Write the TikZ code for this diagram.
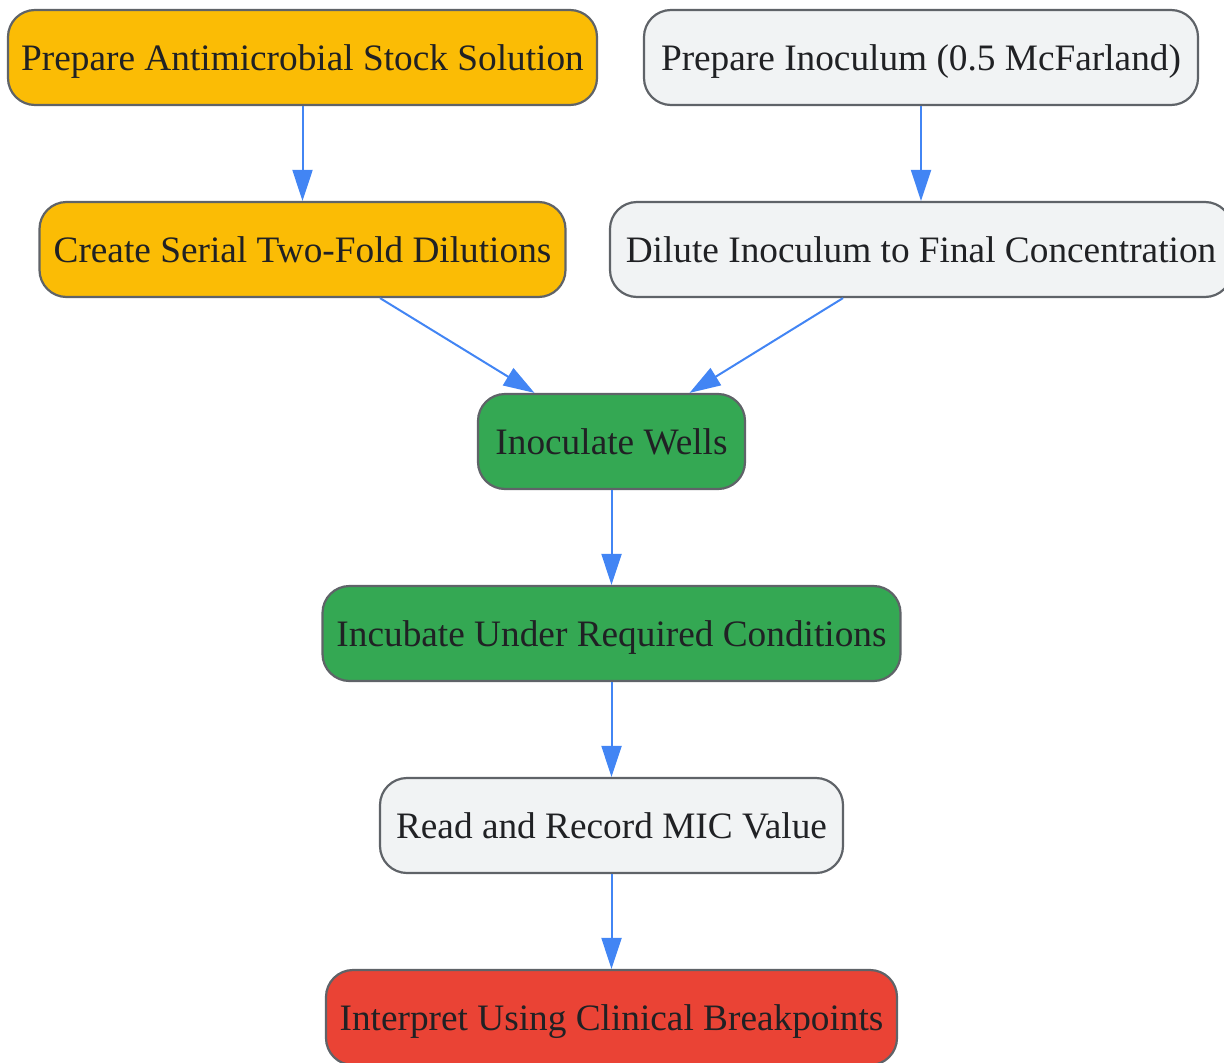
\documentclass[tikz,border=0pt]{standalone}
\usepackage{fontspec}
\setmainfont{Liberation Serif}
\usetikzlibrary{arrows.meta,calc}
\definecolor{cyellow}{HTML}{FBBC05}
\definecolor{cgray}{HTML}{F1F3F4}
\definecolor{cgreen}{HTML}{34A853}
\definecolor{cred}{HTML}{EA4335}
\definecolor{cborder}{HTML}{5F6368}
\definecolor{carrow}{HTML}{4285F4}
\definecolor{ctext}{HTML}{202124}
\tikzset{
  box/.style={draw=cborder, line width=2.2pt, rounded corners=27pt,
    minimum height=95pt, inner sep=0pt, text=ctext,
    text height=25pt, text depth=0pt,
    font=\fontsize{37.3}{44}\selectfont},
  flow/.style={draw=carrow, line width=2pt, -{Triangle[length=31pt,width=20pt]}}
}
\begin{document}
\begin{tikzpicture}[x=1pt,y=1pt]
\useasboundingbox (0,0) rectangle (1224,-1063);
\node[box, fill=cyellow, minimum width=589pt] (A) at (302.5,-57.5) {Prepare Antimicrobial Stock Solution};
\node[box, fill=cgray, minimum width=554pt] (B) at (921,-57.5) {Prepare Inoculum (0.5 McFarland)};
\node[box, fill=cyellow, minimum width=526pt] (C) at (302.5,-249.5) {Create Serial Two-Fold Dilutions};
\node[box, fill=cgray, minimum width=622pt] (D) at (921,-249.5) {Dilute Inoculum to Final Concentration};
\node[box, fill=cgreen, minimum width=267pt] (E) at (611.5,-441.5) {Inoculate Wells};
\node[box, fill=cgreen, minimum width=578pt] (F) at (611.5,-633.5) {Incubate Under Required Conditions};
\node[box, fill=cgray, minimum width=463pt] (G) at (611.5,-825.5) {Read and Record MIC Value};
\node[box, fill=cred, minimum width=571pt] (H) at (611.5,-1017.5) {Interpret Using Clinical Breakpoints};
\draw[flow] (A.south) -- (C.north);
\draw[flow] (B.south) -- (D.north);
\draw[flow] ($(C.south)+(77.5,0)$) -- ($(E.north)+(-77,0)$);
\draw[flow] ($(D.south)+(-78,0)$) -- ($(E.north)+(78,0)$);
\draw[flow] (E.south) -- (F.north);
\draw[flow] (F.south) -- (G.north);
\draw[flow] (G.south) -- (H.north);
\end{tikzpicture}
\end{document}
